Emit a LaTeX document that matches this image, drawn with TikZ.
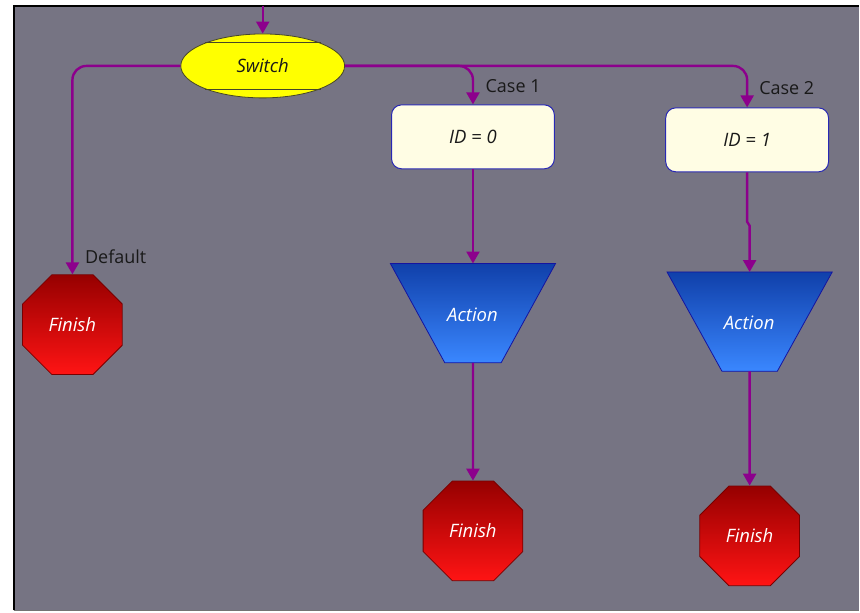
\documentclass[tikz,border=0pt]{standalone}
\usepackage{fontspec}
\setmainfont{Open Sans}
\usetikzlibrary{shapes.geometric,arrows.meta,calc}
\definecolor{bggray}{RGB}{118,116,131}
\definecolor{flow}{RGB}{140,0,140}
\definecolor{idfill}{RGB}{255,253,228}
\definecolor{idborder}{RGB}{40,40,180}
\definecolor{swfill}{RGB}{255,255,0}
\definecolor{swborder}{RGB}{70,70,40}
\definecolor{acttop}{RGB}{16,64,170}
\definecolor{actbot}{RGB}{58,135,255}
\definecolor{actborder}{RGB}{20,20,160}
\definecolor{fintop}{RGB}{150,0,0}
\definecolor{finbot}{RGB}{255,20,20}
\definecolor{finborder}{RGB}{120,0,0}
\definecolor{labtext}{RGB}{25,25,25}
\begin{document}
\begin{tikzpicture}[x=1pt,y=-1pt,
  switchnode/.style={ellipse,draw=swborder,line width=0.8pt,fill=swfill,minimum width=164pt,minimum height=64pt,inner sep=0pt,text=labtext,font=\fontsize{18.5}{22}\selectfont\itshape},
  idnode/.style={rectangle,rounded corners=10pt,draw=idborder,line width=1pt,fill=idfill,minimum width=163pt,minimum height=64pt,inner sep=0pt,text=labtext,font=\fontsize{18.5}{22}\selectfont\itshape},
  actframe/.style={rectangle,minimum width=165pt,minimum height=99pt,inner sep=0pt},
  actshape/.style={top color=acttop,bottom color=actbot,draw=actborder,line width=0.8pt},
  acttext/.style={text=white,font=\fontsize{18.5}{22}\selectfont\itshape},
  finnode/.style={regular polygon,regular polygon sides=8,minimum size=108pt,inner sep=0pt,top color=fintop,bottom color=finbot,draw=finborder,line width=0.8pt,text=white,font=\fontsize{18.5}{22}\selectfont\itshape},
  flowline/.style={draw=flow,line width=2.4pt,rounded corners=14pt,-{Triangle[width=13pt,length=12pt]}},
  caselabel/.style={anchor=west,text=labtext,font=\fontsize{18}{22}\selectfont,inner sep=0pt}
]
% background
\fill[white] (0,0) rectangle (860,613);
\fill[bggray] (14,6) rectangle (860,611);
\draw[black,line width=2pt] (14,611) -- (14,6) -- (860,6);
\draw[black!55,line width=1pt] (14,611) -- (860,611);

% nodes
\node[switchnode] (sw) at (263,66) {Switch};
\draw[swborder,line width=0.8pt] ($(sw.center)+(-58,-24)$) -- ($(sw.center)+(58,-24)$);
\draw[swborder,line width=0.8pt] ($(sw.center)+(-58,24)$) -- ($(sw.center)+(58,24)$);

\node[idnode] (id0) at (473.5,137) {ID = 0};
\node[idnode] (id1) at (748,140) {ID = 1};

\node[actframe] (act1) at (473.5,313.5) {};
\shade[actshape] (act1.north west) -- (act1.north east) -- ($(act1.south east)+(-54.5,0)$) -- ($(act1.south west)+(54.5,0)$) -- cycle;
\node[acttext] (act1t) at (473,315) {Action};

\node[actframe] (act2) at (750.5,322) {};
\shade[actshape] (act2.north west) -- (act2.north east) -- ($(act2.south east)+(-55,0)$) -- ($(act2.south west)+(55,0)$) -- cycle;
\node[acttext] (act2t) at (750,323) {Action};

\node[finnode] (fin1) at (72.5,325) {Finish};
\node[finnode] (fin2) at (473.5,531.5) {Finish};
\node[finnode] (fin3) at (750.5,536.5) {Finish};

% connectors
\coordinate (entry) at (263,6);
\draw[flowline] (entry) -- (sw.north);
\draw[flowline] (sw.west) -| (fin1.north);
\draw[flowline] (sw.east) -| (id0.north);
\draw[flowline] (sw.east) -| (id1.north);
\draw[flowline] (id0.south) -- (act1.north);
\draw[flowline,rounded corners=0pt] (id1.south) -- (748,222) -- (750.5,226) -- (act2.north);
\draw[flowline] (act1.south) -- (fin2.north);
\draw[flowline] (act2.south) -- (fin3.north);

% labels
\node[caselabel] (lcase1) at (486,86) {Case 1};
\node[caselabel] (lcase2) at (760,88) {Case 2};
\node[caselabel] (ldefault) at (85,257) {Default};
\end{tikzpicture}
\end{document}
